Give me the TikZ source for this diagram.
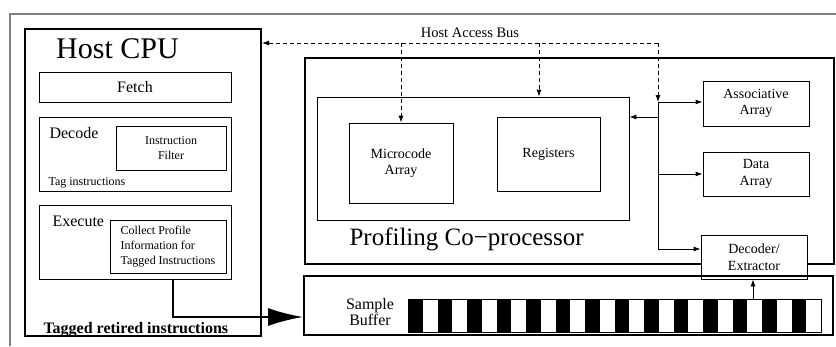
\documentclass[tikz,border=0pt]{standalone}
\usepackage{fontspec}
\setmainfont{Liberation Serif}
\usetikzlibrary{arrows.meta,positioning}

\newcommand{\sizeS}{\fontsize{12}{15}\selectfont}
\newcommand{\sizeM}{\fontsize{14}{16.5}\selectfont}
\newcommand{\sizeL}{\fontsize{16}{16.5}\selectfont}
\newcommand{\sizeXL}{\fontsize{25}{30}\selectfont}
\newcommand{\sizeHuge}{\fontsize{30}{36}\selectfont}

\tikzset{
  box/.style={draw, line width=0.85pt, fill=white, inner sep=0pt, align=center},
  bigbox/.style={draw, line width=2pt, inner sep=0pt},
  tip/.style={line width=0.85pt, -{Latex[length=7pt,width=5pt]}},
  bus/.style={line width=0.85pt, dash pattern=on 4pt off 3pt},
}

\begin{document}
\begin{tikzpicture}[x=1pt,y=-1pt]
  \useasboundingbox (0,0) rectangle (836,346);
  \draw[gray, line width=1.3pt] (10,346) -- (10,14) -- (836,14);

  % host cpu
  \node[bigbox, minimum width=236pt, minimum height=307pt] (host) at (143,182.5) {};
  \node[anchor=base, font=\sizeHuge] (hostlbl) at (117.5,58) {Host CPU};
  \node[box, minimum width=192pt, minimum height=30pt, font=\sizeL] (fetch) at (135,87) {Fetch};

  \node[box, minimum width=192pt, minimum height=74pt] (decode) at (135,154) {};
  \node[anchor=base west, font=\sizeL] (decodelbl) at (46,138) {Decode};
  \node[box, minimum width=110pt, minimum height=44pt, font=\sizeS] (filter) at (171,148) {Instruction\\Filter};
  \node[anchor=base west, font=\sizeS] (taglbl) at (45,185) {Tag instructions};

  \node[box, minimum width=192pt, minimum height=74pt] (execute) at (135,242) {};
  \node[anchor=base west, font=\sizeL] (executelbl) at (49,226) {Execute};
  \node[box, minimum width=116pt, minimum height=53pt, font=\sizeS, align=left] (collect) at (168,246.5)
    {Collect Profile\\Information for\\Tagged Instructions};

  \node[anchor=base west, font=\sizeL\bfseries] (retired) at (40,333) {Tagged retired instructions};

  % profiling co-processor
  \node[bigbox, minimum width=529pt, minimum height=206pt] (copro) at (569.5,161) {};
  \node[box, minimum width=312pt, minimum height=123pt] (core) at (473,158.5) {};
  \node[box, minimum width=104pt, minimum height=80pt, font=\sizeM] (micro) at (401,163) {Microcode\\Array};
  \node[box, minimum width=103pt, minimum height=74pt, font=\sizeM] (regs) at (548.5,154) {Registers};
  \node[anchor=base west, font=\sizeXL] (coprolbl) at (346,245) {Profiling Co−processor};

  \node[box, minimum width=106pt, minimum height=45pt, font=\sizeM] (assoc) at (756,103.5) {Associative\\Array};
  \node[box, minimum width=106pt, minimum height=44pt, font=\sizeM] (data) at (756,174) {Data\\Array};
  \node[box, minimum width=106pt, minimum height=44pt, font=\sizeM] (decoder) at (754,257) {Decoder/\\Extractor};

  % sample buffer
  \node[bigbox, minimum width=529pt, minimum height=59pt] (buffer) at (568.5,305.5) {};
  \node[font=\sizeL, align=center] (bufferlbl) at (370,312) {Sample\\Buffer};
  \node[draw, line width=1pt, inner sep=0pt, minimum width=413pt, minimum height=33pt,
    anchor=north west] (slots) at (408,299) {};
  \foreach \i in {0,...,13}
    \fill (408+\i*29.5,299) rectangle ++(14.75,33);

  % host access bus
  \coordinate (bus) at (0,43);
  \coordinate (junction) at (658,102);
  \coordinate (coretap) at (658,117);
  \coordinate (trunkend) at (658,249);
  \coordinate (regtap) at (539,0);
  \node[anchor=base, font=\fontsize{14.5}{17}\selectfont] (buslbl) at (470,37) {Host Access Bus};
  \draw[bus, tip] (junction |- bus) -- (host.east |- bus);
  \draw[bus, tip] (junction |- bus) -- (junction);
  \draw[bus, tip] (micro.north |- bus) -- (micro.north);
  \draw[bus, tip] (regtap |- bus) -- (regtap |- core.north);

  % internal connections
  \draw[line width=0.85pt] (junction) -- (trunkend);
  \draw[tip] (junction) -- (assoc.west |- junction);
  \draw[tip] (coretap) -- (core.east |- coretap);
  \draw[tip] (junction |- data.west) -- (data.west);
  \draw[tip] (trunkend) -- (decoder.west |- trunkend);

  \coordinate (readout) at (753,299);
  \draw[tip] (readout) -- (readout |- decoder.south);

  % retired instructions into the buffer
  \coordinate (bend) at (173,317);
  \draw[line width=2pt, -{Latex[length=35pt,width=18pt]}] (bend |- execute.south) |- (buffer.west |- bend);
\end{tikzpicture}
\end{document}
